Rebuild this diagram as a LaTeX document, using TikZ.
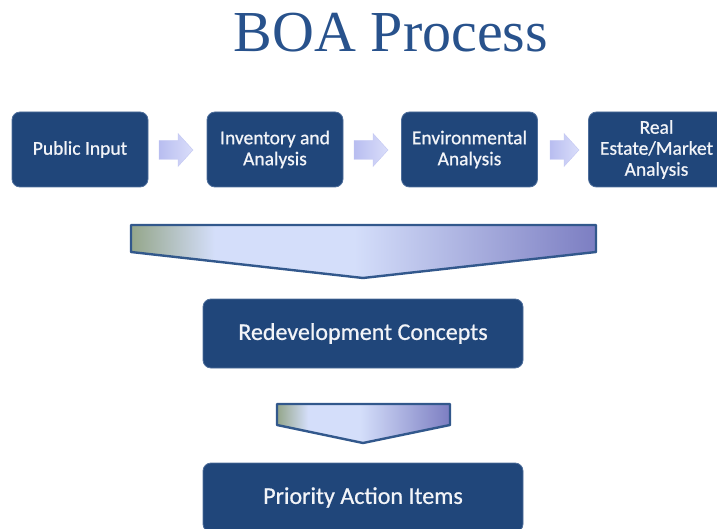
\documentclass[tikz,border=0pt]{standalone}
\usepackage{fontspec}
\setmainfont{Liberation Serif}
\newfontfamily\boxfont[FakeBold=0.7]{Carlito}
\definecolor{boxblue}{RGB}{32,70,122}
\definecolor{boxrim}{RGB}{78,110,155}
\definecolor{boxtext}{RGB}{242,244,248}
\definecolor{titleblue}{RGB}{40,82,140}
\definecolor{chevgreen}{RGB}{148,166,138}
\definecolor{chevlight}{RGB}{212,222,250}
\definecolor{chevpurple}{RGB}{124,126,194}
\definecolor{chevrim}{RGB}{50,88,140}
\definecolor{arrowlight}{RGB}{218,222,250}
\definecolor{arrowdark}{RGB}{184,189,240}
% green -> pale -> purple across the funnels
\pgfdeclarehorizontalshading{chevshade}{100bp}{color(0bp)=(chevgreen); color(25bp)=(chevgreen); color(34bp)=(chevlight); color(49bp)=(chevlight); color(75bp)=(chevpurple); color(100bp)=(chevpurple)}
\begin{document}
\begin{tikzpicture}[x=1pt,y=-1pt,
  procbox/.style={rounded corners=8pt,fill=boxblue,draw=boxrim,line width=0.8pt,
    text=boxtext,align=center,inner sep=0pt},
  toprow/.style={procbox,minimum width=136pt,minimum height=75pt,
    font=\boxfont\fontsize{19.5}{21}\selectfont},
  lowrow/.style={procbox,minimum width=320pt,minimum height=69pt,
    font=\boxfont\fontsize{24}{26}\selectfont},
  funnel/.style={shading=chevshade,draw=chevrim,line width=2.4pt,line join=round},
  steparrow/.pic={
    \path[left color=arrowdark,right color=arrowlight,draw=arrowdark!85!white,line width=0.4pt]
      (-#1,-9.5) -- (2,-9.5) -- (2,-16.5) -- (17,0) -- (2,16.5) -- (2,9.5) -- (-#1,9.5) -- cycle;
  }]
\useasboundingbox (0,0) rectangle (717,529);
\clip (0,0) rectangle (717,529);

% title
\node[anchor=base,text=titleblue,font=\fontsize{58}{60}\selectfont] (title) at (391,52) {BOA Process};

% first row of steps
\node[toprow] (public) at (80,149.5) {Public Input};
\node[toprow] (inventory) at (275,149.5) {Inventory and\\Analysis};
\node[toprow] (environ) at (469.5,149.5) {Environmental\\Analysis};
\node[toprow] (market) at (656.5,149.5) {Real\\Estate/Market\\Analysis};

\pic (arrA) at (176,150) {steparrow=17};
\pic (arrB) at (371,150) {steparrow=17};
\pic (arrC) at (562,150) {steparrow=12};

% funnels down to the concepts
\path[funnel] (131,225) -- (596,225) -- (596,252) -- (363,278) -- (131,252) -- cycle;
\node[lowrow] (concepts) at (363,333.5) {Redevelopment Concepts};

\path[funnel] (277,404) -- (450,404) -- (450,425) -- (363,443) -- (277,425) -- cycle;
\node[lowrow] (priority) at (363,497.5) {Priority Action Items};
\end{tikzpicture}
\end{document}
